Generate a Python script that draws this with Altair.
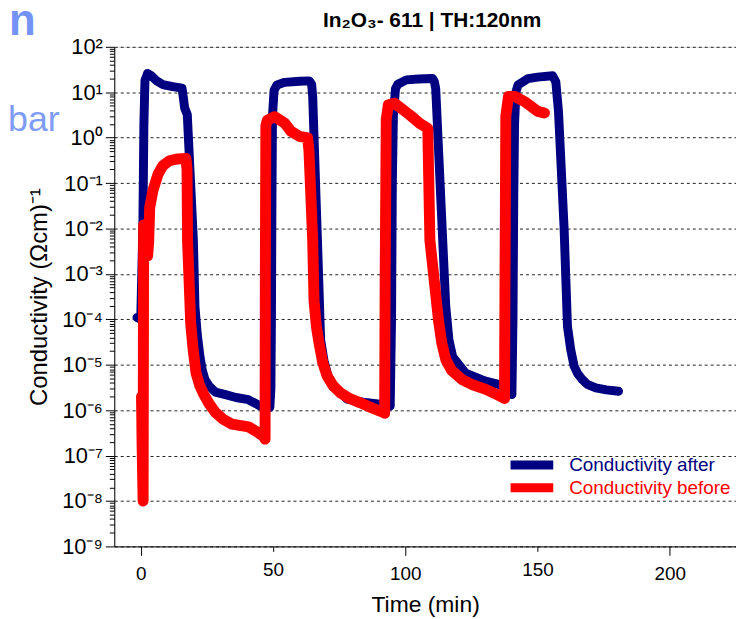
import altair as alt
import pandas as pd

FONT = "Liberation Sans"

# ---- data ----
series_names = ["Conductivity after", "Conductivity before"]
series_colors = ["#000080", "#ff0000"]

after_t = [-1.4, 0.0, 0.8, 1.2, 1.6, 2.6, 4.0, 5.9, 8.3, 12.1, 15.6, 16.2, 16.6, 17.6,
           19.9, 20.5, 21.4, 22.4, 23.3, 24.3, 26.0, 28.2, 32.0, 36.0, 40.7, 45.0, 48.8,
           49.2, 49.4, 49.6, 49.8, 50.4, 51.5, 54.4, 60.0, 63.7, 64.6, 65.0,
           66.8, 68.0, 69.3, 70.5, 71.8, 75.0, 78.0, 84.0, 90.4, 94.3,
           94.8, 95.1, 95.5, 96.3, 97.2, 100.4, 105.0, 110.3, 111.0, 111.5,
           113.0, 115.3, 116.5, 117.9, 120.3, 122.8, 126.5, 130.0, 135.2, 139.2, 140.3,
           140.7, 141.0, 141.3, 141.8, 142.6, 146.4, 150.0, 155.7, 156.9, 157.9,
           160.0, 161.3, 162.5, 163.8, 165.2, 166.8, 168.8, 172.0, 176.0, 180.6]
after_v = [1.1e-4, 1.0e-4, 1.0e-2, 2.0, 18, 26, 23, 18, 14.8, 13.3, 12.3, 7, 4.5, 3.2,
           5.5e-3, 1.9e-4, 4.5e-5, 1.5e-5, 7.5e-6, 4.7e-6, 3.3e-6, 2.5e-6, 2.2e-6, 1.9e-6, 1.7e-6, 1.25e-6, 1.15e-6,
           3e-6, 1e-4, 0.05, 3, 11, 14.5, 16.5, 17.5, 17.8, 15, 8,
           5.5e-3, 3.5e-5, 1.2e-5, 6.5e-6, 4e-6, 2.6e-6, 1.75e-6, 1.5e-6, 1.35e-6, 1.23e-6,
           1e-4, 0.1, 3, 12, 15, 18.7, 19.5, 20, 17, 12,
           0.155, 1.9e-4, 3.5e-5, 1.5e-5, 1.0e-5, 6.5e-6, 5.3e-6, 4.4e-6, 3.7e-6, 3.1e-6, 2.2e-6,
           1e-4, 0.05, 2, 10, 14.5, 20, 21.5, 23, 17, 3.8,
           0.011, 7e-5, 2.2e-5, 9.3e-6, 6.3e-6, 4.8e-6, 3.7e-6, 3.1e-6, 2.8e-6, 2.6e-6]

before_t = [0.3, 0.5, 0.9, 1.1, 1.6, 2.6, 3.0, 3.4, 4.6, 6.5, 8.3, 10.8, 14.0, 17.1, 17.5,
            17.7, 18.9, 19.8, 20.9, 22.3, 23.9, 25.8, 28.2, 31.0, 34.5, 40.7, 44.4, 46.5, 47.0,
            47.1, 47.3, 47.8, 50.6, 54.4, 56.8, 60.0, 63.1, 63.6,
            65.0, 65.5, 66.4, 67.4, 68.8, 70.5, 72.8, 75.5, 79.0, 83.0, 87.0, 91.7, 92.2,
            92.4, 92.8, 93.6, 96.0, 101.6, 105.3, 108.5,
            109.3, 112.6, 113.8, 115.3, 117.5, 121.5, 125.5, 130.2, 134.0, 137.1, 137.5,
            137.7, 138.0, 139.0, 141.4, 145.5, 150.1, 152.6]
before_v = [2e-6, 2e-7, 1e-8, 1.2e-2, 1e-2, 2.5e-3, 5e-3, 0.029, 0.068, 0.155, 0.24, 0.31, 0.34, 0.35, 0.2,
            5.5e-3, 8e-5, 2.2e-5, 6.6e-6, 3.5e-6, 2.2e-6, 1.4e-6, 8.9e-7, 6.4e-7, 4.9e-7, 4.3e-7, 3.2e-7, 2.6e-7, 2.3e-7,
            1e-3, 1.8, 2.4, 2.9, 2.1, 1.38, 1.07, 0.99, 0.5,
            5.5e-3, 2.6e-4, 7e-5, 3.0e-5, 1.1e-5, 5.6e-6, 3.4e-6, 2.4e-6, 1.8e-6, 1.45e-6, 1.15e-6, 8.9e-7, 8.5e-7,
            1e-3, 2.5, 5.3, 5.7, 3.2, 2.1, 1.6,
            5.5e-3, 9e-5, 3e-5, 1.3e-5, 7.5e-6, 4.7e-6, 3.6e-6, 2.9e-6, 2.3e-6, 1.86e-6, 1.8e-6,
            1e-3, 3, 8.1, 8.1, 6, 3.8, 3.5]

x_ticks = [0, 50, 100, 150, 200]
y_decades = list(range(-9, 3))
y_tick_values = [m * 10.0 ** e for e in y_decades[:-1] for m in range(1, 10)] + [10.0 ** y_decades[-1]]

title_text = ["In₂O₃- 611 | TH:120nm"]
x_title = "Time (min)"
y_title = "Conductivity (Ωcm)⁻¹"
slide_fragments = ["n", "bar"]

assert len(after_t) == len(after_v)
assert len(before_t) == len(before_v)

df_after = pd.DataFrame({"t": after_t, "v": after_v, "i": range(len(after_t)),
                         "series": series_names[0]})
df_before = pd.DataFrame({"t": before_t, "v": before_v, "i": range(len(before_t)),
                          "series": series_names[1]})
df_legend = pd.DataFrame({"series": series_names})

color_scale = alt.Scale(domain=series_names, range=series_colors)
x_scale = alt.Scale(domain=[-10, 225], nice=False, zero=False)
y_scale = alt.Scale(type="log", domain=[1e-9, 1e2], nice=False)

E = "round(log(datum.value)/LN10)"
is_major = f"abs(log(datum.value)/LN10 - {E}) < 0.001"
label_expr = (f"{is_major} ? '10' + ({E} < 0 ? '⁻' : '') + "
              f"substring('⁰¹²³⁴⁵⁶⁷⁸⁹', abs({E}), abs({E}) + 1) : ''")

x_axis = alt.Axis(values=x_ticks, grid=False,
                  tickSize={"condition": {"test": "datum.value % 100 === 0", "value": 9}, "value": 5},
                  tickColor="black", domainColor="black", labelColor="black",
                  labelFontSize=19, labelPadding=9, labelFont=FONT,
                  title=x_title, titleFontSize=23, titleFontWeight="normal",
                  titleFont=FONT, titleColor="black", titlePadding=11)
y_axis = alt.Axis(values=y_tick_values, labelExpr=label_expr, labelOverlap=False,
                  tickSize={"condition": {"test": is_major, "value": 9}, "value": 5},
                  grid=True, gridDash=[3, 3], gridColor="#222222",
                  gridOpacity={"condition": {"test": is_major, "value": 1}, "value": 0},
                  tickColor="black", domainColor="black", labelColor="black",
                  labelFontSize=22, labelPadding=3, labelFont=FONT,
                  title=y_title, titleFontSize=24, titleFontWeight="normal",
                  titleFont=FONT, titleColor="black", titlePadding=10)

line_after = alt.Chart(df_after).mark_line(
    strokeWidth=9, strokeCap="round", strokeJoin="round"
).encode(
    x=alt.X("t:Q", scale=x_scale, axis=x_axis),
    y=alt.Y("v:Q", scale=y_scale, axis=y_axis),
    order="i:Q",
    color=alt.Color("series:N", scale=color_scale, legend=None),
)
line_before = alt.Chart(df_before).mark_line(
    strokeWidth=11, strokeCap="round", strokeJoin="round"
).encode(
    x=alt.X("t:Q", scale=x_scale),
    y=alt.Y("v:Q", scale=y_scale),
    order="i:Q",
    color=alt.Color("series:N", scale=color_scale, legend=None),
)
lines = alt.layer(line_after, line_before)

leg_y = alt.Y("series:N", scale=alt.Scale(type="point", domain=series_names,
                                          range=[421, 444], padding=0), axis=None)
leg_sym = alt.Chart(df_legend).mark_rule(strokeWidth=9).encode(
    x=alt.value(399), x2=alt.value(442), y=leg_y,
    color=alt.Color("series:N", scale=color_scale, legend=None),
)
leg_txt = alt.Chart(df_legend).mark_text(
    align="left", baseline="middle", fontSize=19, font=FONT
).encode(
    x=alt.value(458), y=leg_y, text="series:N",
    color=alt.Color("series:N", scale=color_scale, legend=None),
)
legend = alt.layer(leg_sym, leg_txt)

title_mark = alt.Chart(pd.DataFrame({"s": title_text})).mark_text(
    align="center", baseline="alphabetic", fontSize=21, fontWeight="bold",
    font=FONT, color="black"
).encode(x=alt.value(320), y=alt.value(-20), text="s:N")

frag_n = alt.Chart(pd.DataFrame({"s": slide_fragments[:1]})).mark_text(
    align="left", baseline="alphabetic", fontSize=44, fontWeight="bold",
    font=FONT, color="#7393f7"
).encode(x=alt.value(-106), y=alt.value(-12), text="s:N")
frag_bar = alt.Chart(pd.DataFrame({"s": slide_fragments[1:]})).mark_text(
    align="left", baseline="alphabetic", fontSize=36,
    font=FONT, color="#7f9cf8"
).encode(x=alt.value(-107), y=alt.value(85), text="s:N")

chart = alt.layer(lines, legend, title_mark, frag_n, frag_bar).resolve_scale(
    y="independent"
).properties(
    width=626, height=503,
    autosize=alt.AutoSizeParams(type="none"),
    padding={"left": 107, "top": 37, "right": 0, "bottom": 70},
).configure_view(
    stroke="black", strokeWidth=1.5
).configure(background="white")

chart.save("out.html", embed_options={"renderer": "svg", "actions": False})
